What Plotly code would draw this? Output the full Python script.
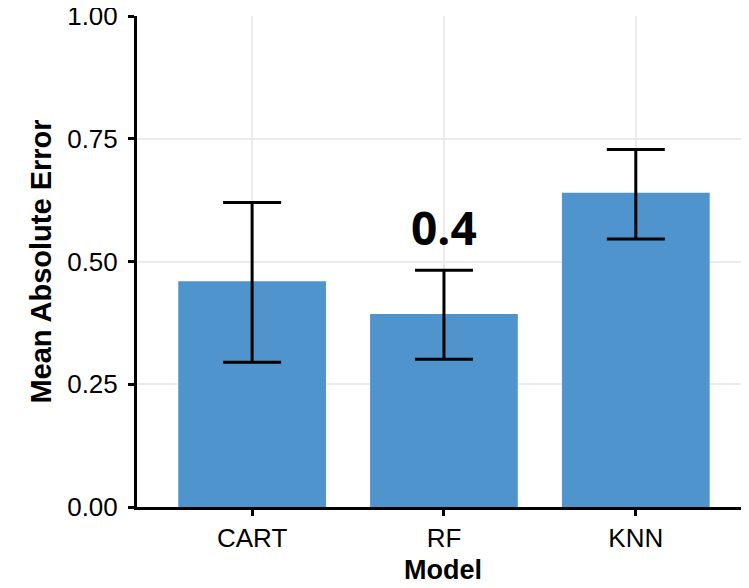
import plotly.graph_objects as go

categories = ["CART", "RF", "KNN"]
mae_mean = [0.460, 0.393, 0.640]
mae_upper = [0.620, 0.482, 0.728]
mae_lower = [0.295, 0.301, 0.546]
y_tick_vals = [0.0, 0.25, 0.50, 0.75, 1.00]
y_tick_text = ["0.00", "0.25", "0.50", "0.75", "1.00"]
highlight_label = "0.4"
highlight_y = 0.57

err_plus = [u - m for u, m in zip(mae_upper, mae_mean)]
err_minus = [m - l for m, l in zip(mae_mean, mae_lower)]

fig = go.Figure()
fig.add_trace(go.Bar(
    x=categories,
    y=mae_mean,
    width=0.77,
    marker=dict(color="#4F94CD", line=dict(width=0)),
    error_y=dict(type="data", symmetric=False, array=err_plus, arrayminus=err_minus,
                 color="black", thickness=3, width=29),
    showlegend=False,
))

fig.add_annotation(
    x="RF", y=highlight_y, text="<b>" + highlight_label + "</b>",
    showarrow=False, xanchor="center", yanchor="middle",
    font=dict(family="Open Sans", size=46, color="black"),
)

axis_font = dict(family="Liberation Sans", size=26, color="black")
xtitle_font = dict(family="Liberation Sans", size=27, color="black", weight="bold")
ytitle_font = dict(family="Liberation Sans", size=29, color="black", weight="bold")

fig.update_layout(
    width=741, height=580,
    margin=dict(l=129, r=0, t=8, b=81),
    plot_bgcolor="white", paper_bgcolor="white",
    xaxis=dict(
        range=[-0.6, 2.59],
        automargin=False,
        showline=True, linecolor="black", linewidth=3,
        ticks="outside", ticklen=6, tickwidth=3, tickcolor="black",
        showgrid=True, gridcolor="#EBEBEB", gridwidth=2,
        tickfont=axis_font,
        title=dict(text="Model", font=xtitle_font, standoff=8),
        zeroline=False,
    ),
    yaxis=dict(
        range=[0, 1],
        automargin=False,
        tickvals=y_tick_vals, ticktext=y_tick_text,
        ticklabeloverflow="allow",
        ticklabelstandoff=5,
        showline=True, linecolor="black", linewidth=3,
        ticks="outside", ticklen=6, tickwidth=3, tickcolor="black",
        showgrid=True, gridcolor="#EBEBEB", gridwidth=2,
        tickfont=axis_font,
        title=dict(text="Mean Absolute Error", font=ytitle_font, standoff=8),
        zeroline=False,
    ),
)

fig.write_html("out.html")
